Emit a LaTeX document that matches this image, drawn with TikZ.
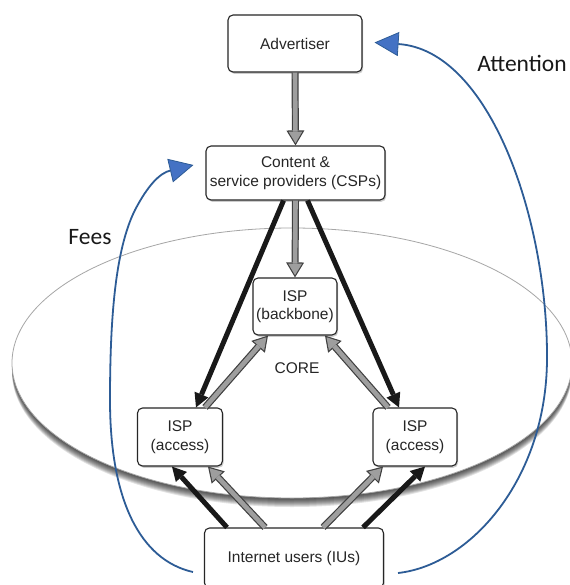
\documentclass[tikz,border=0pt]{standalone}
\usepackage{fontspec}
\setmainfont{Liberation Sans}
\newfontfamily\labelfont{Carlito}
\usetikzlibrary{arrows.meta,shapes.geometric,shadows,calc}
\definecolor{bluel}{RGB}{45,92,150}
\definecolor{bluef}{RGB}{68,114,196}
\begin{document}
\begin{tikzpicture}[x=1pt,y=-1pt,
  box/.style={draw=black!85, line width=1.1pt, rounded corners=5pt, fill=white, align=center,
    font=\fontsize{15.5}{18.5}\selectfont, inner sep=0pt, text=black!85,
    drop shadow={shadow xshift=1.2pt, shadow yshift=-1.8pt, opacity=0.4}},
  gout/.style={line width=7pt, draw=black!75, -{Triangle[width=18pt,length=15pt,line width=0pt]}},
  gin/.style={line width=4.6pt, draw=black!38, shorten >=2.3pt, -{Triangle[width=13.8pt,length=11.5pt,line width=0pt]}},
  barrow/.style={line width=5pt, draw=black!90, -{Triangle[width=15pt,length=14pt,line width=0pt]}},
  bluecurve/.style={line width=1.8pt, draw=bluel, -{Triangle[width=24pt,length=24pt,line width=0.8pt,fill=bluef]}},
  lbl/.style={font=\labelfont\fontsize{23.5}{26}\selectfont, text=black!90},
  shade/.style={ellipse, fill=black, fill opacity=0.11, minimum width=560pt, minimum height=270pt, inner sep=0pt}]
\useasboundingbox (0,0) rectangle (569,585);
\fill[white] (0,0) rectangle (569,585);

% core ellipse with soft shadow
\foreach \s in {1,...,9}{
  \node[shade] at (292,363+\s) {};
}
\node[ellipse, draw=black!35, line width=0.8pt, fill=white, minimum width=560pt, minimum height=270pt, inner sep=0pt] (core) at (292,363) {};
\node[font=\fontsize{15.5}{18}\selectfont, text=black!85] (corelbl) at (297,368) {CORE};

% nodes
\node[box, minimum width=134pt, minimum height=57pt] (adv) at (295,43.5) {Advertiser};
\node[box, minimum width=179pt, minimum height=54pt] (csp) at (295.5,173) {Content \&\\service providers (CSPs)};
\node[box, minimum width=84pt, minimum height=57pt] (bb) at (295,306.5) {ISP\\(backbone)};
\node[box, minimum width=85pt, minimum height=58pt] (lacc) at (180,437) {ISP\\(access)};
\node[box, minimum width=84pt, minimum height=58pt] (racc) at (415,437) {ISP\\(access)};
\node[box, minimum width=179pt, minimum height=60pt] (iu) at (294,558) {Internet users (IUs)};

% gray arrows
\foreach \a/\b in {{(adv.south)}/{(csp.north)},
                   {(csp.south)}/{(bb.north)},
                   {($(lacc.north)+(25,0)$)}/{($(bb.south)+(-27,0)$)},
                   {($(racc.north)+(-27,0)$)}/{($(bb.south)+(30,0)$)},
                   {($(iu.north)+(-29,0)$)}/{($(lacc.south)+(28,0)$)},
                   {($(iu.north)+(29,0)$)}/{($(racc.south)+(-32,0)$)}}{
  \draw[gout] \a -- \b;
  \draw[gin] \a -- \b;
}

% black arrows
\draw[barrow] ($(csp.south)+(-12,0)$) -- ($(lacc.north)+(16,0)$);
\draw[barrow] ($(csp.south)+(12,0)$) -- ($(racc.north)+(-16,0)$);
\draw[barrow] ($(iu.north)+(-67,0)$) -- ($(lacc.south)+(-8,0)$);
\draw[barrow] ($(iu.north)+(69,0)$) -- ($(racc.south)+(10,0)$);

% blue curves
\coordinate (f0) at ($(iu.west)+(-11,14)$);
\coordinate (f1) at ($(csp.west)+(-12,-8)$);
\draw[bluecurve] (f0) .. controls (140,560) and (110,500) .. (110,400)
  .. controls (110,320) and (115,250) .. (135,210)
  .. controls (148,185) and (160,173) .. (f1);
\coordinate (a0) at ($(iu.east)+(14,15)$);
\coordinate (a1) at ($(adv.east)+(12,-1)$);
\draw[bluecurve] (a0) .. controls (470,565) and (546,480) .. (547,360)
  .. controls (548,220) and (490,50) .. (a1);

\node[lbl] (fees) at (90,237) {Fees};
\node[lbl] (att) at (522,63) {Attention};
\end{tikzpicture}
\end{document}
